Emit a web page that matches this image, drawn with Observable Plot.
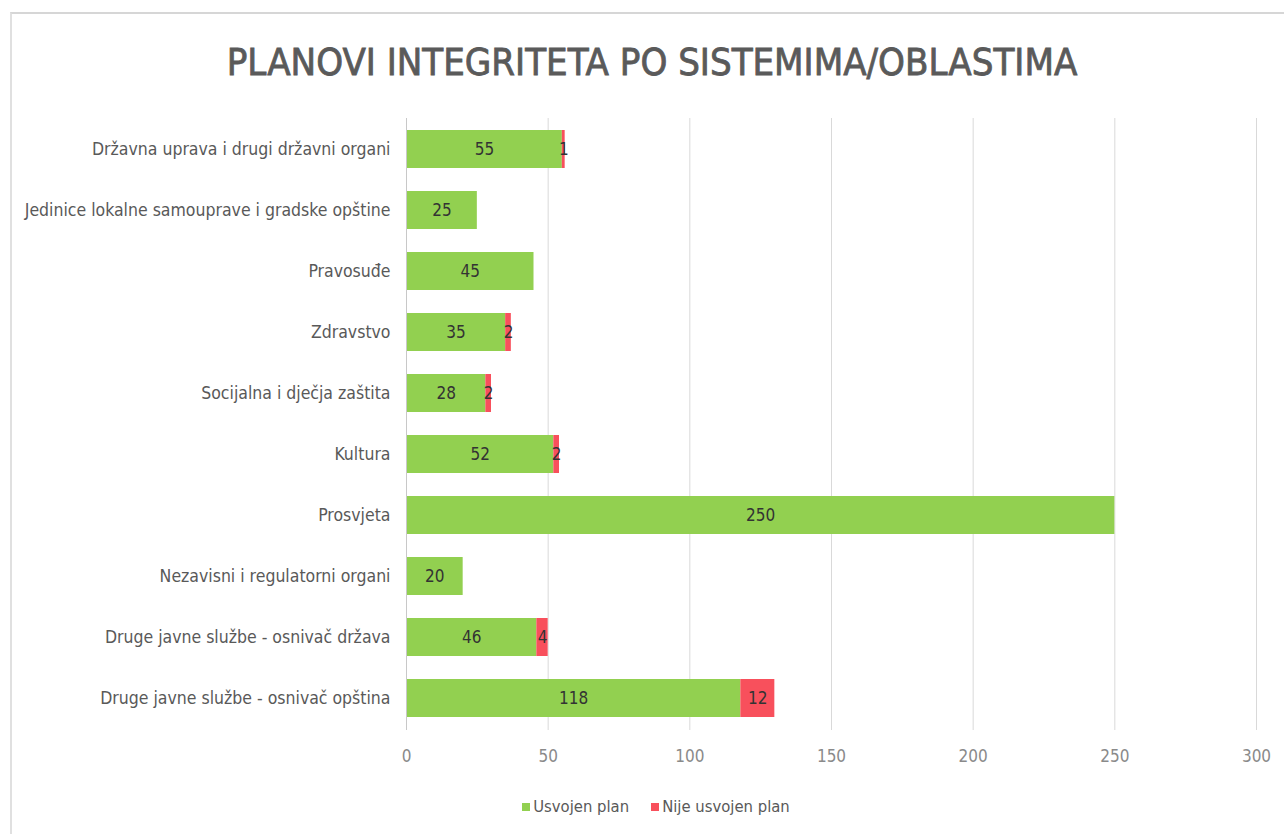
<!DOCTYPE html>
<html>
<head>
<meta charset="utf-8">
<script src="https://cdn.jsdelivr.net/npm/d3@7"></script>
<script src="https://cdn.jsdelivr.net/npm/@observablehq/plot@0.6"></script>
<style>
  html, body { margin: 0; padding: 0; background: #fff; }
  body { width: 1284px; height: 834px; position: relative; overflow: hidden;
         font-family: "DejaVu Sans Condensed", "Liberation Sans Narrow", sans-serif; }
  #frame { position: absolute; left: 10px; top: 12px; right: 0; bottom: 0;
           border-top: 2px solid #d6d6d6; border-left: 2px solid #e0e0e0; }
  #title { position: absolute; top: 40px; left: 0; width: 1304px; text-align: center;
           font-size: 38px; font-weight: normal; color: #5a5a5a; -webkit-text-stroke: 0.8px #5a5a5a; }
  #chart { position: absolute; left: 0; top: 100px; }
  #legend { position: absolute; top: 797px; left: 0; width: 1284px; display: flex; justify-content: center;
            gap: 22px; font-size: 16.5px; color: #595959; padding-left: 28px; box-sizing: border-box; }
  #legend span.sw { display: inline-block; width: 8px; height: 8px; margin-right: 3px; vertical-align: 1px; }
</style>
</head>
<body>
<div id="frame"></div>
<div id="title">PLANOVI INTEGRITETA PO SISTEMIMA/OBLASTIMA</div>
<div id="chart"></div>
<div id="legend"></div>
<script>
const categories = [
  "Državna uprava i drugi državni organi",
  "Jedinice lokalne samouprave i gradske opštine",
  "Pravosuđe",
  "Zdravstvo",
  "Socijalna i dječja zaštita",
  "Kultura",
  "Prosvjeta",
  "Nezavisni i regulatorni organi",
  "Druge javne službe - osnivač država",
  "Druge javne službe - osnivač opština"
];
const usvojen = [55, 25, 45, 35, 28, 52, 250, 20, 46, 118];
const nijeUsvojen = [1, 0, 0, 2, 2, 2, 0, 0, 4, 12];
const seriesNames = ["Usvojen plan", "Nije usvojen plan"];
const seriesColors = ["#92d050", "#f8505c"];
const xTicks = [0, 50, 100, 150, 200, 250, 300];

const data = [];
categories.forEach((c, i) => {
  data.push({cat: c, series: seriesNames[0], value: usvojen[i]});
  data.push({cat: c, series: seriesNames[1], value: nijeUsvojen[i]});
});

const chart = Plot.plot({
  width: 1284,
  height: 680,
  marginLeft: 406,
  marginRight: 28,
  marginTop: 18,
  marginBottom: 50,
  style: {fontFamily: '"DejaVu Sans Condensed", "Liberation Sans Narrow", sans-serif', background: "transparent"},
  x: {domain: [0, 300], ticks: xTicks, tickSize: 0, tickPadding: 19, label: null},
  y: {domain: categories, paddingInner: 0.37, paddingOuter: 0.2, label: null, tickSize: 0, tickPadding: 16},
  color: {domain: seriesNames, range: seriesColors},
  marks: [
    Plot.ruleX(xTicks.slice(1), {stroke: "#d9d9d9", strokeWidth: 1}),
    Plot.barX(data, Plot.stackX({x: "value", y: "cat", fill: "series", z: "series", order: seriesNames})),
    Plot.ruleX([0], {stroke: "#c8c8c8", strokeWidth: 1}),
    Plot.textX(data.filter(d => d.value > 0), Plot.stackX({x: "value", y: "cat", z: "series", order: seriesNames, text: d => String(d.value), fill: "#333333", fontSize: 17})),
    Plot.axisX({ticks: xTicks, tickSize: 0, tickPadding: 19, fontSize: 17, color: "#8a8a8a", label: null}),
    Plot.axisY({tickSize: 0, tickPadding: 16, fontSize: 17.5, color: "#595959", label: null})
  ]
});
document.getElementById("chart").appendChild(chart);

const legend = document.getElementById("legend");
seriesNames.forEach((n, i) => {
  const item = document.createElement("div");
  const sw = document.createElement("span");
  sw.className = "sw";
  sw.style.background = seriesColors[i];
  item.appendChild(sw);
  item.appendChild(document.createTextNode(n));
  legend.appendChild(item);
});
</script>
</body>
</html>
